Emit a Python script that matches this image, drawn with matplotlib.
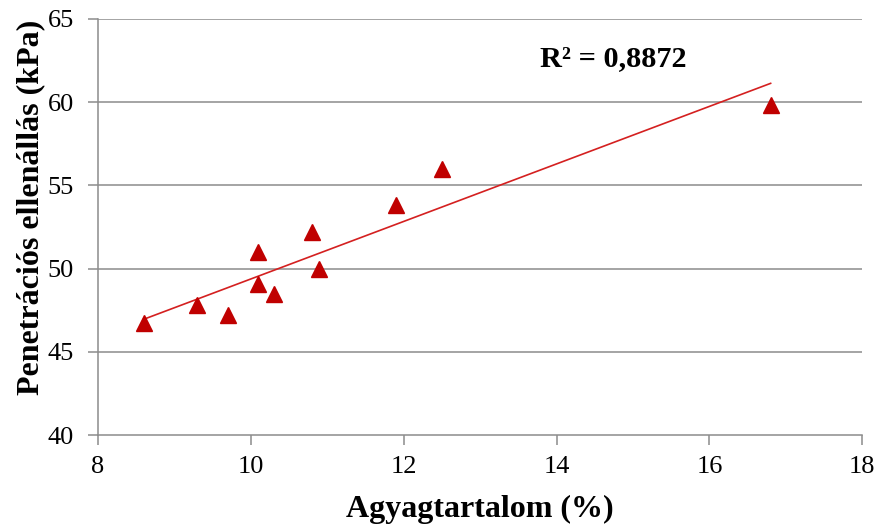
import numpy as np
import matplotlib
matplotlib.use("Agg")
import matplotlib.pyplot as plt

# agyagtartalom (%) es penetracios ellenallas (kPa)
clay = [8.6, 9.3, 9.7, 10.1, 10.1, 10.3, 10.8, 10.9, 11.9, 12.5, 16.8]
resistance = [46.7, 47.8, 47.2, 51.0, 49.1, 48.5, 52.2, 50.0, 53.8, 56.0, 59.8]
r2_label = "R² = 0,8872"

x_ticks = [8, 10, 12, 14, 16, 18]
y_ticks = [40, 45, 50, 55, 60, 65]

plt.rcParams['font.family'] = ['Liberation Serif', 'DejaVu Serif']

fig = plt.figure(figsize=(8.8, 5.26), dpi=100)
ax = fig.add_axes([0.111, 0.173, 0.869, 0.791])

grid_col = '#8c8c8c'
for y in y_ticks[1:]:
    ax.axhline(y, color=grid_col, lw=1.1, zorder=1)

# linearis trend
k, b = np.polyfit(clay, resistance, 1)
xs = np.array([min(clay), max(clay)])
ax.plot(xs, k * xs + b, color='#d42020', lw=1.2, zorder=2)

ax.plot(clay, resistance, linestyle='none', marker='^', ms=11.5,
        color='#c00000', zorder=3)

ax.text(13.78, 62.6, r2_label, fontsize=21.8, fontweight='bold', va='center')

ax.set_xlim(8, 18)
ax.set_ylim(40, 65)
ax.set_xticks(x_ticks)
ax.set_yticks(y_ticks)
ax.tick_params(labelsize=19, color=grid_col, length=7, width=1.1)
ax.tick_params(axis='y', pad=10)
ax.tick_params(axis='x', pad=8)

for s in ['top', 'right']:
    ax.spines[s].set_visible(False)
for s in ['left', 'bottom']:
    ax.spines[s].set_color(grid_col)
    ax.spines[s].set_linewidth(1.1)

ax.set_xlabel("Agyagtartalom (%)", fontsize=23, fontweight='bold', labelpad=12)
ax.set_ylabel("Penetrációs ellenállás (kPa)", fontsize=23, fontweight='bold')
ax.yaxis.set_label_coords(-0.068, 0.546)

fig.savefig("out.png", dpi=100)
